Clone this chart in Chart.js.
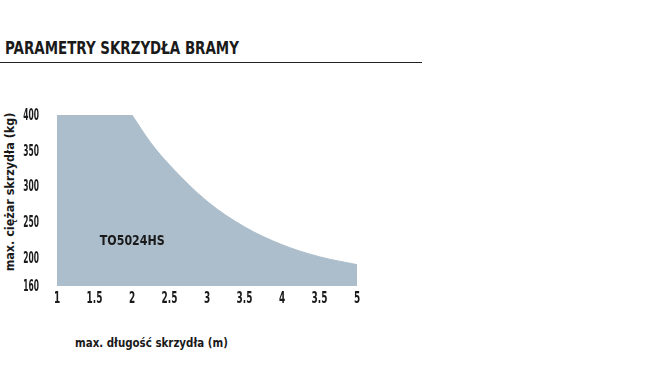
<!DOCTYPE html>
<html>
<head>
<meta charset="utf-8">
<script src="https://cdn.jsdelivr.net/npm/chart.js@4/dist/chart.umd.min.js"></script>
<style>
    body { margin: 0; background: #fff; }
    .wrap { position: relative; width: 650px; height: 385px; }
    .cond { font-family: "DejaVu Sans", sans-serif; font-weight: bold; color: #1a1a1a; white-space: nowrap; }
    #title { position: absolute; left: 5px; top: 37px; font-size: 18px; transform: scaleX(0.745); transform-origin: 0 0; }
    #rule { position: absolute; left: 0; top: 62px; width: 422px; height: 1px; background: #222; }
    #yTitle { position: absolute; left: 9px; top: 192px; font-size: 13px;
              transform: translate(-50%, -50%) rotate(-90deg) scaleX(0.86); }
    #xTitle { position: absolute; left: 75px; top: 335px; font-size: 13px; transform: scaleX(0.79); transform-origin: 0 0; }
    canvas { position: absolute; left: 0; top: 0; }
</style>
</head>
<body>
<div class="wrap">
    <div id="title" class="cond">PARAMETRY SKRZYDŁA BRAMY</div>
    <div id="rule"></div>
    <div id="yTitle" class="cond">max. ciężar skrzydła (kg)</div>
    <div id="xTitle" class="cond">max. długość skrzydła (m)</div>
    <canvas id="chart" width="650" height="385"></canvas>
</div>
<script>
// dane
const flatLengths = [1, 2];
const flatWeights = [400, 400];
const curveLengths = [2, 2.25, 2.5, 3, 3.5, 4, 4.5, 5];
const curveWeights = [400, 361, 330, 279, 243, 218, 201, 190];
const xTickLabels = ['1', '1.5', '2', '2.5', '3', '3.5', '4', '3.5', '5'];
const yTickValues = [160, 200, 250, 300, 350, 400];
const modelName = 'TO5024HS';

const fillColor = '#acbecb';
const textColor = '#1a1a1a';

// wąski tekst: zwykły DejaVu ściśnięty w poziomie
function narrowText(ctx, text, x, y, size, squeeze, align) {
    ctx.save();
    ctx.font = 'bold ' + size + 'px "DejaVu Sans", sans-serif';
    ctx.fillStyle = textColor;
    ctx.textAlign = align;
    ctx.textBaseline = 'middle';
    ctx.translate(x, y);
    ctx.scale(squeeze, 1);
    ctx.fillText(text, 0, 0);
    ctx.restore();
}

// Etykiety osi i podpis modelu
const narrowLabels = {
    id: 'narrowLabels',
    afterDatasetsDraw(chart) {
        const { ctx, scales, chartArea } = chart;
        scales.x.ticks.forEach((t, i) => {
            narrowText(ctx, xTickLabels[i], scales.x.getPixelForValue(t.value), chartArea.bottom + 13, 16, 0.56, 'center');
        });
        scales.y.ticks.forEach((t) => {
            narrowText(ctx, String(t.value), chartArea.left - 18, scales.y.getPixelForValue(t.value) + 1, 16, 0.47, 'right');
        });
        narrowText(ctx, modelName, scales.x.getPixelForValue(1.57), scales.y.getPixelForValue(223), 14, 0.79, 'left');
    }
};

const toPoints = (xs, ys) => xs.map((x, i) => ({ x: x, y: ys[i] }));

new Chart(document.getElementById('chart'), {
    type: 'line',
    data: {
        datasets: [
            {
                data: toPoints(flatLengths, flatWeights),
                backgroundColor: fillColor,
                borderWidth: 0,
                pointRadius: 0,
                fill: 'start'
            },
            {
                data: toPoints(curveLengths, curveWeights),
                backgroundColor: fillColor,
                borderColor: fillColor,
                borderWidth: 1,
                pointRadius: 0,
                cubicInterpolationMode: 'monotone',
                fill: 'start'
            }
        ]
    },
    options: {
        responsive: false,
        animation: false,
        layout: { padding: { left: 0, right: 293, top: 115, bottom: 69 } },
        plugins: { legend: { display: false }, tooltip: { enabled: false } },
        scales: {
            x: {
                type: 'linear',
                min: 1,
                max: 5,
                grid: { display: false, drawTicks: false },
                border: { display: false },
                ticks: { stepSize: 0.5, display: false },
                afterFit: (scale) => { scale.height = 30; }
            },
            y: {
                min: 160,
                max: 400,
                grid: { display: false, drawTicks: false },
                border: { display: false },
                afterBuildTicks: (scale) => { scale.ticks = yTickValues.map(v => ({ value: v })); },
                ticks: { display: false },
                afterFit: (scale) => { scale.width = 57; }
            }
        }
    },
    plugins: [narrowLabels]
});
</script>
</body>
</html>
